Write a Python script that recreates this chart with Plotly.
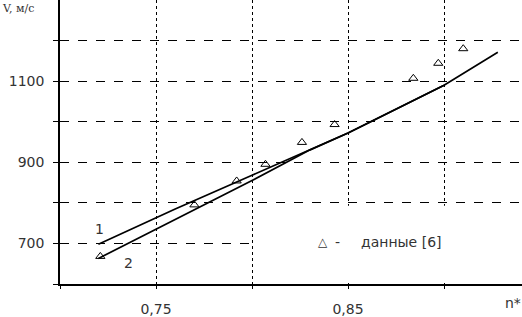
import plotly.graph_objects as go

# Data
line1_x = [0.72, 0.76, 0.80, 0.83, 0.85, 0.90]
line1_y = [698, 785, 868, 930, 972, 1090]
line2_x = [0.72, 0.76, 0.80, 0.83, 0.85, 0.90, 0.928]
line2_y = [663, 760, 855, 930, 972, 1090, 1171]
data_x = [0.721, 0.770, 0.792, 0.807, 0.826, 0.843, 0.884, 0.897, 0.910]
data_y = [668, 795, 854, 895, 949, 993, 1107, 1144, 1180]

x_grid = [0.70, 0.75, 0.80, 0.85, 0.90]
x_labels = ["", "0,75", "", "0,85", ""]
y_grid = [600, 700, 800, 900, 1000, 1100, 1200]
y_labels = ["", "700", "", "900", "", "1100", ""]

fig = go.Figure()
fig.add_trace(go.Scatter(x=line1_x, y=line1_y, mode="lines",
                         line=dict(color="black", width=1.7), showlegend=False))
fig.add_trace(go.Scatter(x=line2_x, y=line2_y, mode="lines",
                         line=dict(color="black", width=1.7), showlegend=False))
fig.add_trace(go.Scatter(x=data_x, y=data_y, mode="markers",
                         marker=dict(symbol="triangle-up-open", size=8,
                                     color="black", line=dict(width=1)),
                         showlegend=False))

font_main = dict(family="DejaVu Sans", size=14, color="#333333")

legend_y = 1100 + (82 - 245) / 0.41

fig.update_layout(
    width=522, height=317,
    margin=dict(l=60, r=0, t=0, b=29),
    paper_bgcolor="white", plot_bgcolor="white",
    font=font_main,
    xaxis=dict(range=[0.70, 0.9406], tickmode="array", tickvals=x_grid,
               ticktext=x_labels, showgrid=True, gridcolor="black",
               gridwidth=1, griddash="dot", zeroline=False,
               showline=True, linecolor="black", linewidth=1.5,
               ticks="outside", ticklen=3, tickcolor="black",
               ticklabelstandoff=8, tickfont=font_main),
    yaxis=dict(range=[600, 1300], tickmode="array", tickvals=y_grid,
               ticktext=y_labels, showgrid=True, gridcolor="black",
               gridwidth=1, griddash="dash", zeroline=False,
               showline=True, linecolor="black", linewidth=1.5,
               ticks="outside", ticklen=5, tickcolor="black",
               ticklabelstandoff=6, tickfont=font_main),
    shapes=[
        dict(type="rect", xref="x", yref="y",
             x0=0.70 + (254 - 60) / 1920, x1=0.9406,
             y0=1100 + (82 - 286) / 0.41, y1=1100 + (82 - 208) / 0.41,
             fillcolor="white", line=dict(width=0), layer="above"),
    ],
    annotations=[
        dict(text="V, м/с", xref="paper", yref="paper", x=-60/462, y=1.0,
             xanchor="left", yanchor="top", showarrow=False,
             font=dict(family="DejaVu Serif", size=11, color="#333333")),
        dict(text="n*", xref="paper", yref="paper", x=(513-60)/462,
             y=(288-307)/288, xanchor="center", yanchor="middle",
             showarrow=False, font=font_main),
        dict(text="1", x=0.7208, y=735, showarrow=False, font=font_main),
        dict(text="2", x=0.7359, y=651, showarrow=False, font=font_main),
        dict(text="△", x=0.70 + (323 - 60) / 1920, y=legend_y,
             xanchor="center", showarrow=False,
             font=dict(family="DejaVu Sans", size=12, color="#333333")),
        dict(text="-", x=0.70 + (337 - 60) / 1920, y=legend_y,
             xanchor="center", showarrow=False, font=font_main),
        dict(text="данные [6]", x=0.70 + (359 - 60) / 1920, y=legend_y,
             xanchor="left", showarrow=False, font=font_main),
    ],
)

fig.write_html("out.html", config={"displayModeBar": False},
               post_script="document.body.style.margin='0';")
